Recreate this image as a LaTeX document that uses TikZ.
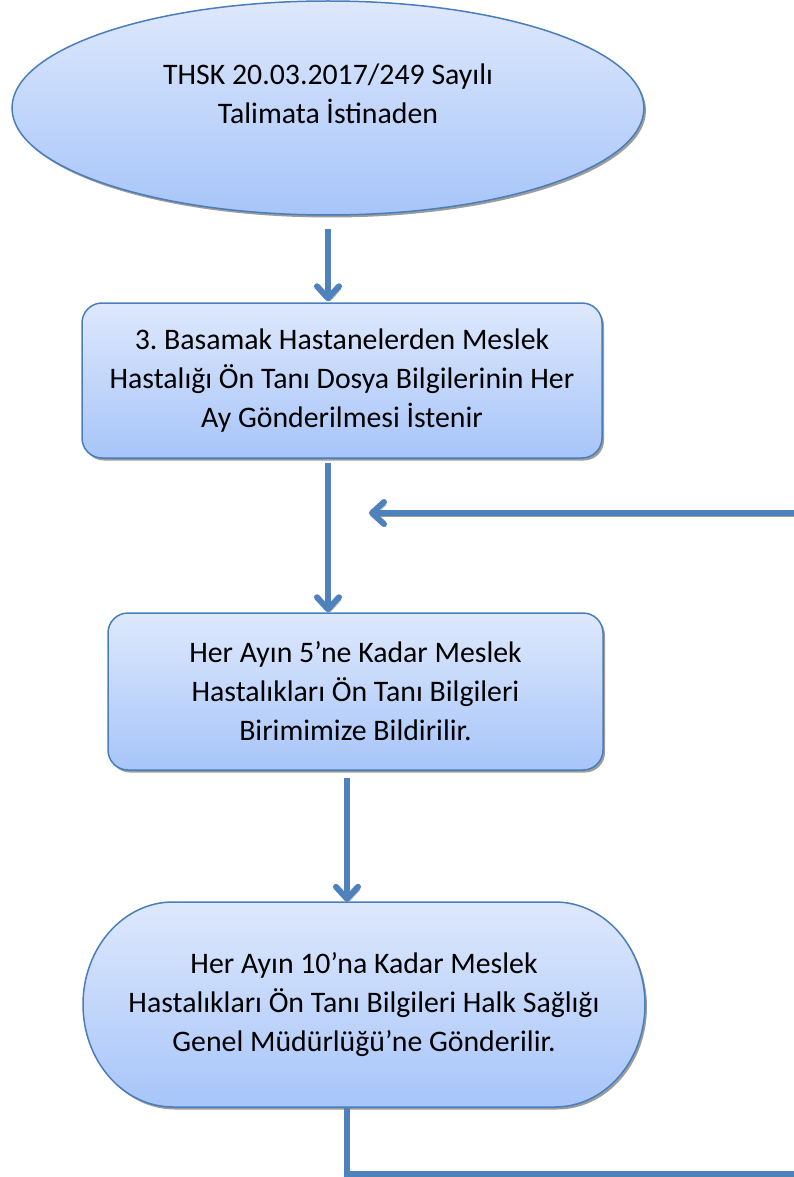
\documentclass[tikz,border=0pt]{standalone}
\usepackage{fontspec}
\setmainfont{Carlito}
\usetikzlibrary{arrows.meta,shapes.geometric,shadows,calc}
\definecolor{edgeblue}{HTML}{4A7EBB}
\definecolor{linkblue}{HTML}{4F81BD}
\definecolor{filltop}{HTML}{DEE8FC}
\definecolor{fillbot}{HTML}{A7C5F9}
\definecolor{shadowgray}{HTML}{9C9C9C}
\frenchspacing

\begin{document}
\begin{tikzpicture}[x=1pt,y=-1pt,
  flowshape/.style={draw=edgeblue, line width=1.5pt, top color=filltop, bottom color=fillbot,
    drop shadow={shadow xshift=2pt, shadow yshift=-2.5pt, fill=shadowgray, opacity=1}},
  txt/.style={font=\fontsize{29.8}{39}\selectfont, align=center, text=black, inner sep=0pt},
  link/.style={draw=linkblue, line width=6pt},
  shadowed/.style={preaction={draw=shadowgray, transform canvas={xshift=2pt,yshift=-3pt}}},
  tip/.style={-{Straight Barb[length=12pt,width=22pt,round]}},
]
\useasboundingbox (0,0) rectangle (794,1177);

% start: ellipse
\node[ellipse, flowshape, minimum width=632pt, minimum height=214pt, inner sep=0pt] (ell) at (328,108) {};
\node[txt] (elltext) at (328,94) {THSK 20.03.2017/249 Sayılı\\Talimata İstinaden};

% process boxes
\node[rectangle, rounded corners=20pt, flowshape, minimum width=520pt, minimum height=155pt, txt] (box1) at (342,380.5)
  {3. Basamak Hastanelerden Meslek\\Hastalığı Ön Tanı Dosya Bilgilerinin Her\\Ay Gönderilmesi İstenir};
\node[rectangle, rounded corners=20pt, flowshape, minimum width=495pt, minimum height=157pt, txt] (box2) at (355.5,691.5)
  {Her Ayın 5’ne Kadar Meslek\\Hastalıkları Ön Tanı Bilgileri\\Birimimize Bildirilir.};

% terminator with elliptical ends
\path[flowshape] (173,902) -- (555,902)
  arc[start angle=-90, end angle=90, x radius=90, y radius=102.5]
  -- (173,1107)
  arc[start angle=90, end angle=270, x radius=90, y radius=102.5] -- cycle;
\node[rectangle, minimum width=562pt, minimum height=205pt, txt] (term) at (364,1004.5)
  {Her Ayın 10’na Kadar Meslek\\Hastalıkları Ön Tanı Bilgileri Halk Sağlığı\\Genel Müdürlüğü’ne Gönderilir.};

% connector columns and free ends
\coordinate (col) at (347,0);
\coordinate (loopin) at (794,513);
\coordinate (looptip) at (369,513);
\coordinate (loopout) at (794,1174);

% connectors (yshift is in page units: negative moves down)
\draw[link, shadowed, tip] ([yshift=-13pt]ell.south) -- ([yshift=1pt]box1.north -| ell.center);
\draw[link, shadowed, tip] ([yshift=-4pt]box1.south -| ell.center) -- (box2.north -| ell.center);
\draw[link, shadowed, tip] ([yshift=-7pt]box2.south -| col) -- (term.north -| col);
\draw[link, shadowed, tip] (loopin) -- (looptip);
\draw[link] (term.south -| col) -- (loopout -| col) -- (loopout);
\end{tikzpicture}
\end{document}
